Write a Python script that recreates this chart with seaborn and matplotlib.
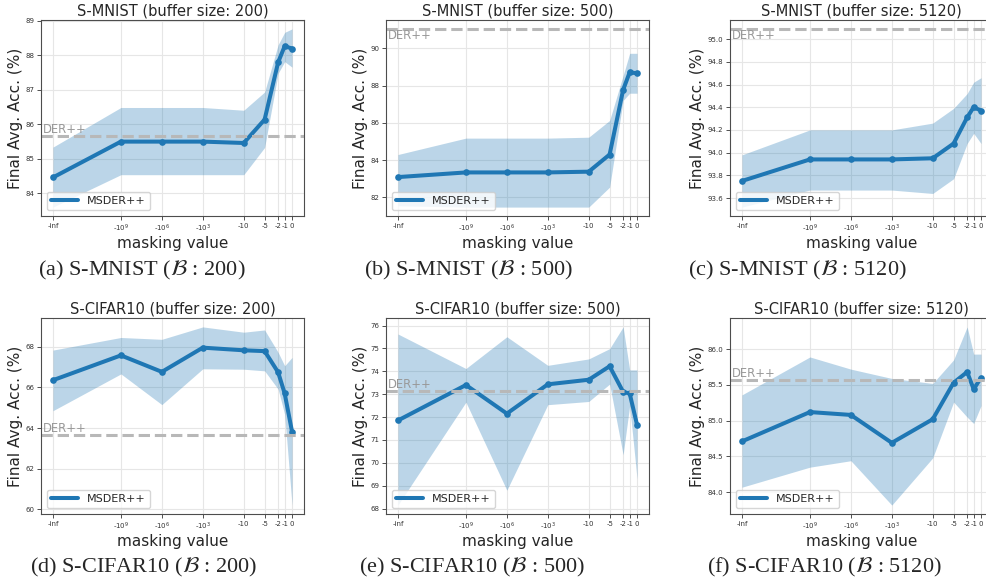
import matplotlib
matplotlib.use('Agg')
import matplotlib.pyplot as plt
from matplotlib.lines import Line2D
import seaborn as sns

# masking values on the x axis (custom spaced positions)
mask_labels = ['-inf', '-$10^9$', '-$10^6$', '-$10^3$', '-10', '-5', '-2', '-1', '0']
x_pos = [0, 1.66, 2.66, 3.66, 4.66, 5.17, 5.5, 5.66, 5.84]

titles = ['S-MNIST (buffer size: 200)', 'S-MNIST (buffer size: 500)', 'S-MNIST (buffer size: 5120)',
          'S-CIFAR10 (buffer size: 200)', 'S-CIFAR10 (buffer size: 500)', 'S-CIFAR10 (buffer size: 5120)']
captions = [r'(a) S-MNIST ($\mathcal{B}$ : 200)', r'(b) S-MNIST ($\mathcal{B}$ : 500)',
            r'(c) S-MNIST ($\mathcal{B}$ : 5120)', r'(d) S-CIFAR10 ($\mathcal{B}$ : 200)',
            r'(e) S-CIFAR10 ($\mathcal{B}$ : 500)', r'(f) S-CIFAR10 ($\mathcal{B}$ : 5120)']

# MSDER++ mean, upper and lower band; DER++ baseline
mnist200_mean = [84.46, 85.50, 85.50, 85.50, 85.46, 86.14, 87.80, 88.27, 88.20]
mnist200_hi = [85.34, 86.49, 86.49, 86.49, 86.41, 86.94, 88.31, 88.67, 88.77]
mnist200_lo = [83.60, 84.54, 84.54, 84.54, 84.54, 85.33, 87.48, 87.82, 87.66]
mnist200_der = 85.65

mnist500_mean = [83.09, 83.34, 83.34, 83.34, 83.38, 84.30, 87.77, 88.71, 88.66]
mnist500_hi = [84.30, 85.18, 85.18, 85.18, 85.23, 86.13, 88.54, 89.73, 89.73]
mnist500_lo = [81.55, 81.48, 81.48, 81.48, 81.48, 82.55, 87.20, 87.59, 87.59]
mnist500_der = 91.04

mnist5120_mean = [93.75, 93.94, 93.94, 93.94, 93.95, 94.08, 94.31, 94.40, 94.37]
mnist5120_hi = [93.98, 94.20, 94.20, 94.20, 94.26, 94.39, 94.52, 94.62, 94.66]
mnist5120_lo = [93.52, 93.67, 93.67, 93.67, 93.64, 93.77, 94.08, 94.17, 94.08]
mnist5120_der = 95.09

cifar200_mean = [66.35, 67.57, 66.76, 67.95, 67.82, 67.78, 66.74, 65.70, 63.82]
cifar200_hi = [67.83, 68.45, 68.36, 68.97, 68.71, 68.82, 67.72, 67.06, 67.47]
cifar200_lo = [64.85, 66.66, 65.15, 66.91, 66.89, 66.81, 65.91, 64.67, 60.21]
cifar200_der = 63.67

cifar500_mean = [71.85, 73.40, 72.15, 73.43, 73.63, 74.22, 73.10, 73.03, 71.66]
cifar500_hi = [75.63, 74.12, 75.51, 74.26, 74.54, 74.99, 75.94, 74.06, 74.06]
cifar500_lo = [68.15, 72.65, 68.80, 72.54, 72.68, 73.44, 70.35, 72.50, 69.30]
cifar500_der = 73.15

cifar5120_mean = [84.71, 85.12, 85.08, 84.69, 85.02, 85.53, 85.68, 85.44, 85.60]
cifar5120_hi = [85.36, 85.89, 85.72, 85.59, 85.52, 85.85, 86.31, 85.93, 85.93]
cifar5120_lo = [84.07, 84.35, 84.44, 83.82, 84.48, 85.26, 85.05, 84.96, 85.21]
cifar5120_der = 85.57

yticks = [[84, 85, 86, 87, 88, 89], [82, 84, 86, 88, 90],
          [93.6, 93.8, 94.0, 94.2, 94.4, 94.6, 94.8, 95.0],
          [60, 62, 64, 66, 68], [68, 69, 70, 71, 72, 73, 74, 75, 76],
          [84.0, 84.5, 85.0, 85.5, 86.0]]

panels = [
    (mnist200_mean, mnist200_hi, mnist200_lo, mnist200_der),
    (mnist500_mean, mnist500_hi, mnist500_lo, mnist500_der),
    (mnist5120_mean, mnist5120_hi, mnist5120_lo, mnist5120_der),
    (cifar200_mean, cifar200_hi, cifar200_lo, cifar200_der),
    (cifar500_mean, cifar500_hi, cifar500_lo, cifar500_der),
    (cifar5120_mean, cifar5120_hi, cifar5120_lo, cifar5120_der),
]

sns.set_style('whitegrid', {'axes.edgecolor': '0.3', 'grid.color': '0.9',
                            'xtick.bottom': True, 'ytick.left': True})
plt.rcParams['font.family'] = ['DejaVu Sans']

blue = '#1f77b4'
fig = plt.figure(figsize=(9.86, 5.84), dpi=100)

W, H = 986, 584
lefts = [41, 386, 730]
tops = [20, 318]
cap_x = [142, 468, 797, 144, 472, 824]
cap_y = [270, 567]
label_above = [True, False, False, True, True, True]

for i, (mean, hi, lo, der) in enumerate(panels):
    r, c = divmod(i, 3)
    ax = fig.add_axes([lefts[c] / W, (H - tops[r] - 196) / H, 263 / W, 196 / H])
    ax.fill_between(x_pos, lo, hi, color=blue, alpha=0.3, linewidth=0)
    sns.lineplot(x=x_pos, y=mean, ax=ax, color=blue, linewidth=2.9,
                 marker='o', markersize=4.8, markeredgewidth=0, legend=False)
    ax.axhline(der, color='#b8b8b8', linestyle='--', linewidth=2.2)
    if label_above[i]:
        ax.text(0.008, der, 'DER++', transform=ax.get_yaxis_transform(),
                va='bottom', ha='left', color='#999999', fontsize=8.3)
    else:
        ax.text(0.008, der, 'DER++', transform=ax.get_yaxis_transform(),
                va='top', ha='left', color='#999999', fontsize=8.3)
    ax.set_xticks(x_pos)
    ax.set_xticklabels(mask_labels)
    ax.set_yticks(yticks[i])
    if isinstance(yticks[i][0], float):
        ax.set_yticklabels([f'{v:.1f}' for v in yticks[i]])
    ax.tick_params(labelsize=5, length=3, width=0.6, pad=2, colors='0.2')
    ax.set_title(titles[i], fontsize=10.5, pad=3)
    ax.set_xlabel('masking value', fontsize=11, labelpad=1)
    ax.set_ylabel('Final Avg. Acc. (%)', fontsize=11, labelpad=1.5)
    handle = Line2D([], [], color=blue, linewidth=2.9)
    ax.legend([handle], ['MSDER++'], loc='lower left', fontsize=8, handlelength=2.4, frameon=True)
    for s in ax.spines.values():
        s.set_linewidth(0.8)
    fig.text(cap_x[i] / W, (H - cap_y[r]) / H, captions[i], ha='center', va='center',
             fontsize=16, family='Liberation Serif', math_fontfamily='stix')

fig.savefig('out.png', dpi=100)
